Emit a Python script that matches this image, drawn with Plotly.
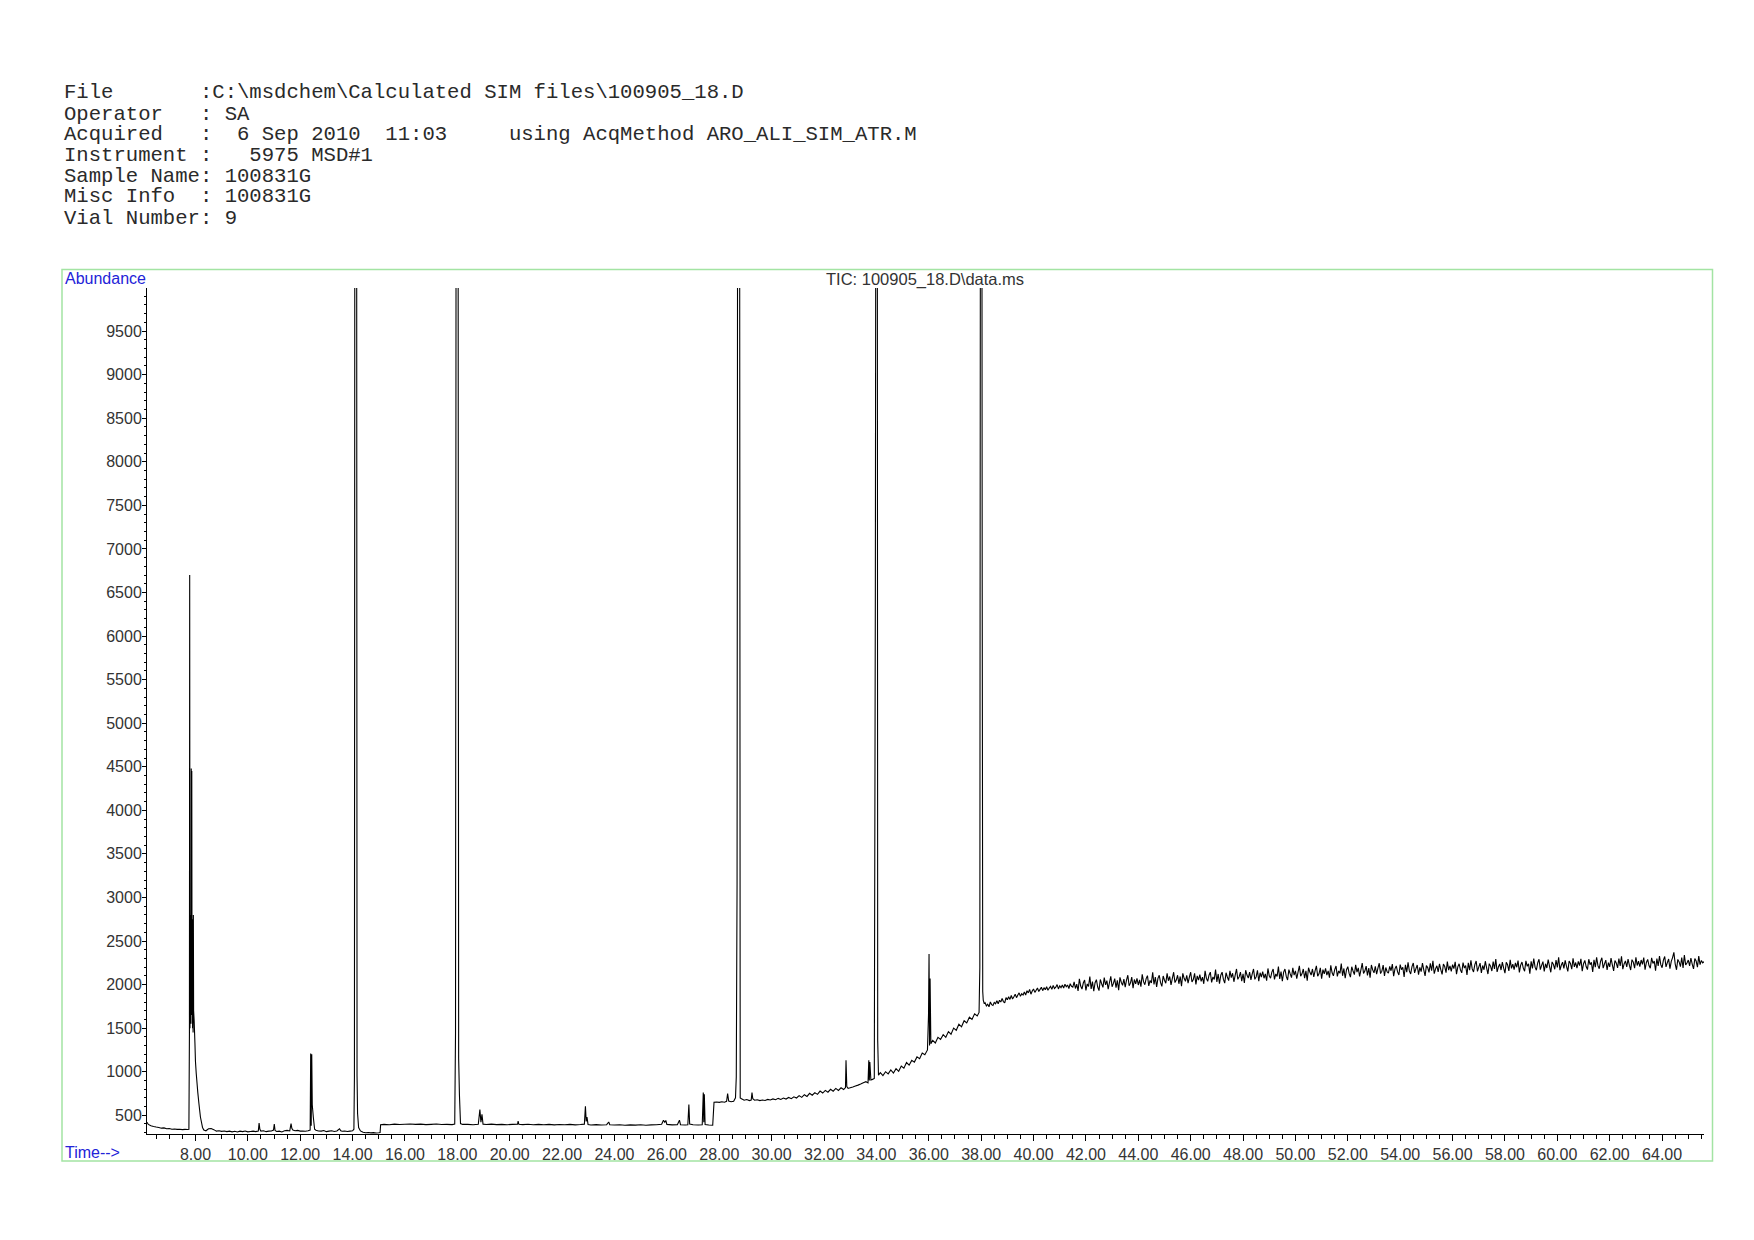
import plotly.graph_objects as go

# ---- header lines of the ChemStation report ----
header_lines = [
    "File       :C:\\msdchem\\Calculated SIM files\\100905_18.D",
    "Operator   : SA",
    "Acquired   :  6 Sep 2010  11:03     using AcqMethod ARO_ALI_SIM_ATR.M",
    "Instrument :   5975 MSD#1",
    "Sample Name: 100831G",
    "Misc Info  : 100831G",
    "Vial Number: 9",
]
chart_title = "TIC: 100905_18.D\\data.ms"

# ---- axis ticks ----
x_tick_values = [8, 10, 12, 14, 16, 18, 20, 22, 24, 26, 28, 30, 32, 34, 36,
                 38, 40, 42, 44, 46, 48, 50, 52, 54, 56, 58, 60, 62, 64]
y_tick_values = [500, 1000, 1500, 2000, 2500, 3000, 3500, 4000, 4500, 5000,
                 5500, 6000, 6500, 7000, 7500, 8000, 8500, 9000, 9500]

# ---- TIC trace (time in min, abundance) ----
# solvent front / first peak cluster
solvent_time = [6.15, 6.2, 6.3, 6.4, 6.5, 6.6, 6.7, 6.8, 6.9, 7.0,
                7.1, 7.2, 7.3, 7.4, 7.5, 7.6, 7.7, 7.75, 7.77, 7.78,
                7.79, 7.80, 7.81, 7.82, 7.83, 7.84, 7.85, 7.86, 7.87, 7.88,
                7.89, 7.90, 7.91, 7.92, 7.93, 7.95, 7.98, 8.00, 8.03, 8.06,
                8.09, 8.13, 8.16, 8.19, 8.23, 8.27, 8.32, 8.4]
solvent_abund = [420, 395, 380, 372, 365, 360, 352, 355, 345, 348,
                 340, 343, 338, 340, 335, 338, 336, 340, 1450, 6700,
                 1500, 2800, 1600, 2700, 1550, 4480, 1700, 4450, 1650, 2750,
                 1500, 2600, 1450, 2800, 1700, 1590, 1330, 1120, 980, 870,
                 760, 640, 560, 480, 420, 360, 330, 322]

# flat baseline section 8.5 - 27.8 min
early_time = [8.5, 8.6, 8.7, 8.8, 8.9, 9.0, 9.1, 9.2, 9.3, 9.4,
              9.5, 9.6, 9.7, 9.8, 9.9, 10.0, 10.1, 10.2, 10.3, 10.4,
              10.43, 10.46, 10.5, 10.6, 10.7, 10.8, 10.9, 10.98, 11.01, 11.04,
              11.1, 11.2, 11.3, 11.4, 11.5, 11.6, 11.65, 11.68, 11.72, 11.8,
              11.9, 12.0, 12.1, 12.2, 12.3, 12.38, 12.4, 12.42, 12.44, 12.46,
              12.5, 12.55, 12.6, 12.7, 12.8, 12.9, 13.0, 13.1, 13.2, 13.3,
              13.4, 13.5, 13.55, 13.6, 13.7, 13.8, 13.9, 14.0, 14.05, 14.07,
              14.09, 14.12, 14.15, 14.17, 14.19, 14.23, 14.3, 14.4, 14.5, 14.6,
              14.7, 14.8, 14.9, 15.0, 15.05, 15.07, 15.2, 15.4, 15.6, 15.8,
              16.0, 16.2, 16.4, 16.6, 16.8, 17.0, 17.2, 17.4, 17.6, 17.8,
              17.9, 17.93, 17.96, 18.02, 18.05, 18.08, 18.12, 18.2, 18.4, 18.6,
              18.8, 18.86, 18.9, 18.94, 18.98, 19.1, 19.3, 19.5, 19.7, 19.9,
              20.1, 20.3, 20.32, 20.35, 20.5, 20.7, 20.9, 21.1, 21.3, 21.5,
              21.7, 21.9, 22.1, 22.3, 22.5, 22.7, 22.85, 22.89, 22.92, 22.95,
              22.99, 23.1, 23.3, 23.5, 23.7, 23.78, 23.82, 24.0, 24.2, 24.4,
              24.6, 24.8, 25.0, 25.2, 25.4, 25.6, 25.8, 25.87, 25.92, 25.96,
              26.0, 26.2, 26.4, 26.48, 26.52, 26.7, 26.8, 26.84, 26.87, 27.0,
              27.2, 27.35, 27.39, 27.41, 27.43, 27.46, 27.6, 27.75]
early_abund = [345, 348, 335, 318, 322, 315, 320, 312, 318, 310,
               316, 308, 318, 312, 320, 310, 314, 318, 312, 320,
               410, 340, 318, 322, 312, 318, 320, 330, 400, 325,
               314, 318, 308, 322, 326, 320, 405, 350, 330, 322,
               326, 318, 320, 316, 322, 330, 1210, 380, 1200, 620,
               480, 340, 328, 320, 318, 325, 312, 318, 322, 314,
               320, 345, 322, 316, 320, 314, 318, 322, 340, 940,
               15000, 15000, 15000, 950, 520, 360, 320, 305, 300, 302,
               298, 301, 297, 300, 302, 392, 396, 392, 398, 394,
               397, 400, 395, 398, 393, 396, 399, 394, 396, 393,
               398, 1440, 15000, 15000, 1150, 730, 405, 395, 396, 392,
               397, 565, 420, 510, 398, 394, 398, 393, 396, 392,
               395, 398, 432, 396, 393, 397, 391, 395, 392, 396,
               390, 394, 391, 395, 390, 394, 398, 603, 430, 480,
               395, 389, 393, 388, 392, 423, 392, 388, 392, 386,
               390, 387, 391, 386, 390, 392, 396, 443, 420, 440,
               395, 390, 392, 443, 392, 388, 392, 623, 400, 392,
               388, 392, 761, 420, 740, 395, 388, 386]

# rising baseline 27.8 - 38.1 min
ramp_time = [27.8, 27.9, 28.0, 28.1, 28.2, 28.28, 28.32, 28.36, 28.45, 28.55,
             28.62, 28.65, 28.68, 28.71, 28.77, 28.8, 28.85, 28.95, 29.05, 29.15,
             29.22, 29.25, 29.28, 29.35, 29.45, 29.55, 29.65, 29.75, 29.85, 29.95,
             30.05, 30.15, 30.25, 30.35, 30.45, 30.55, 30.65, 30.75, 30.85, 30.95,
             31.05, 31.15, 31.25, 31.35, 31.45, 31.55, 31.65, 31.75, 31.85, 31.95,
             32.05, 32.15, 32.25, 32.35, 32.45, 32.55, 32.65, 32.75, 32.82, 32.84,
             32.87, 32.92, 33.0, 33.1, 33.2, 33.3, 33.4, 33.5, 33.6, 33.68,
             33.71, 33.73, 33.75, 33.79, 33.85, 33.92, 33.96, 33.99, 34.03, 34.05,
             34.08, 34.15, 34.25, 34.35, 34.45, 34.55, 34.65, 34.75, 34.85, 34.95,
             35.05, 35.15, 35.25, 35.35, 35.45, 35.55, 35.65, 35.75, 35.85, 35.95,
             35.99, 36.01, 36.03, 36.05, 36.08, 36.15, 36.25, 36.35, 36.45, 36.55,
             36.65, 36.75, 36.85, 36.95, 37.05, 37.15, 37.25, 37.35, 37.45, 37.55,
             37.65, 37.75, 37.85, 37.92, 37.95, 37.98, 38.02, 38.04, 38.06, 38.08,
             38.12]
ramp_abund = [650, 652, 648, 655, 650, 660, 749, 662, 655, 660,
              700, 940, 3150, 15000, 15000, 700, 690, 672, 680, 668,
              675, 761, 690, 672, 678, 668, 675, 670, 682, 676,
              688, 678, 694, 682, 698, 686, 704, 690, 712, 698,
              725, 705, 736, 716, 752, 730, 760, 740, 778, 755,
              786, 765, 798, 776, 808, 785, 815, 795, 818, 1130,
              830, 808, 815, 824, 835, 846, 858, 872, 885, 872,
              1130, 900, 1110, 905, 912, 922, 6500, 15000, 15000, 1360,
              960, 990, 955, 1000, 975, 1020, 985, 1035, 1005, 1065,
              1040, 1105, 1075, 1130, 1110, 1170, 1150, 1215, 1195, 1250,
              1650, 2350, 1300, 2070, 1320, 1360, 1330, 1395, 1370, 1425,
              1395, 1460, 1430, 1500, 1475, 1545, 1515, 1585, 1560, 1625,
              1600, 1665, 1640, 1680, 2200, 15000, 15000, 6650, 1920, 1820,
              1780]

# noisy shoulder after the last big peak, 38.15 - 41.5 min
shoulder_time = [38.15, 38.20, 38.25, 38.30, 38.35, 38.40, 38.45, 38.50, 38.55, 38.60,
                 38.65, 38.70, 38.75, 38.80, 38.85, 38.90, 38.95, 39.00, 39.05, 39.10,
                 39.15, 39.20, 39.25, 39.30, 39.35, 39.40, 39.45, 39.50, 39.55, 39.60,
                 39.65, 39.70, 39.75, 39.80, 39.85, 39.90, 39.95, 40.00, 40.05, 40.10,
                 40.15, 40.20, 40.25, 40.30, 40.35, 40.40, 40.45, 40.50, 40.55, 40.60,
                 40.65, 40.70, 40.75, 40.80, 40.85, 40.90, 40.95, 41.00, 41.05, 41.10,
                 41.15, 41.20, 41.25, 41.30, 41.35, 41.40, 41.45, 41.50]
shoulder_abund = [1790, 1755, 1775, 1745, 1800, 1770, 1760, 1795, 1780, 1815,
                  1780, 1820, 1800, 1840, 1805, 1790, 1850, 1825, 1860, 1830,
                  1875, 1835, 1860, 1890, 1850, 1880, 1905, 1865, 1895, 1880,
                  1915, 1880, 1930, 1905, 1945, 1890, 1925, 1950, 1910, 1935,
                  1960, 1920, 1945, 1970, 1930, 1965, 1940, 1975, 1935, 1960,
                  1980, 1945, 1990, 1955, 1970, 2000, 1950, 1985, 1965, 1995,
                  1960, 2005, 1975, 1995, 1955, 2010, 1980, 1970]

# noisy plateau 41.55 - 65.6 min
plateau_time = [41.55, 41.60, 41.65, 41.70, 41.75, 41.80, 41.85, 41.90, 41.95, 42.00,
                42.05, 42.10, 42.15, 42.20, 42.25, 42.30, 42.35, 42.40, 42.45, 42.50,
                42.55, 42.60, 42.65, 42.70, 42.75, 42.80, 42.85, 42.90, 42.95, 43.00,
                43.05, 43.10, 43.15, 43.20, 43.25, 43.30, 43.35, 43.40, 43.45, 43.50,
                43.55, 43.60, 43.65, 43.70, 43.75, 43.80, 43.85, 43.90, 43.95, 44.00,
                44.05, 44.10, 44.15, 44.20, 44.25, 44.30, 44.35, 44.40, 44.45, 44.50,
                44.55, 44.60, 44.65, 44.70, 44.75, 44.80, 44.85, 44.90, 44.95, 45.00,
                45.05, 45.10, 45.15, 45.20, 45.25, 45.30, 45.35, 45.40, 45.45, 45.50,
                45.55, 45.60, 45.65, 45.70, 45.75, 45.80, 45.85, 45.90, 45.95, 46.00,
                46.05, 46.10, 46.15, 46.20, 46.25, 46.30, 46.35, 46.40, 46.45, 46.50,
                46.55, 46.60, 46.65, 46.70, 46.75, 46.80, 46.85, 46.90, 46.95, 47.00,
                47.05, 47.10, 47.15, 47.20, 47.25, 47.30, 47.35, 47.40, 47.45, 47.50,
                47.55, 47.60, 47.65, 47.70, 47.75, 47.80, 47.85, 47.90, 47.95, 48.00,
                48.05, 48.10, 48.15, 48.20, 48.25, 48.30, 48.35, 48.40, 48.45, 48.50,
                48.55, 48.60, 48.65, 48.70, 48.75, 48.80, 48.85, 48.90, 48.95, 49.00,
                49.05, 49.10, 49.15, 49.20, 49.25, 49.30, 49.35, 49.40, 49.45, 49.50,
                49.55, 49.60, 49.65, 49.70, 49.75, 49.80, 49.85, 49.90, 49.95, 50.00,
                50.05, 50.10, 50.15, 50.20, 50.25, 50.30, 50.35, 50.40, 50.45, 50.50,
                50.55, 50.60, 50.65, 50.70, 50.75, 50.80, 50.85, 50.90, 50.95, 51.00,
                51.05, 51.10, 51.15, 51.20, 51.25, 51.30, 51.35, 51.40, 51.45, 51.50,
                51.55, 51.60, 51.65, 51.70, 51.75, 51.80, 51.85, 51.90, 51.95, 52.00,
                52.05, 52.10, 52.15, 52.20, 52.25, 52.30, 52.35, 52.40, 52.45, 52.50,
                52.55, 52.60, 52.65, 52.70, 52.75, 52.80, 52.85, 52.90, 52.95, 53.00,
                53.05, 53.10, 53.15, 53.20, 53.25, 53.30, 53.35, 53.40, 53.45, 53.50,
                53.55, 53.60, 53.65, 53.70, 53.75, 53.80, 53.85, 53.90, 53.95, 54.00,
                54.05, 54.10, 54.15, 54.20, 54.25, 54.30, 54.35, 54.40, 54.45, 54.50,
                54.55, 54.60, 54.65, 54.70, 54.75, 54.80, 54.85, 54.90, 54.95, 55.00,
                55.05, 55.10, 55.15, 55.20, 55.25, 55.30, 55.35, 55.40, 55.45, 55.50,
                55.55, 55.60, 55.65, 55.70, 55.75, 55.80, 55.85, 55.90, 55.95, 56.00,
                56.05, 56.10, 56.15, 56.20, 56.25, 56.30, 56.35, 56.40, 56.45, 56.50,
                56.55, 56.60, 56.65, 56.70, 56.75, 56.80, 56.85, 56.90, 56.95, 57.00,
                57.05, 57.10, 57.15, 57.20, 57.25, 57.30, 57.35, 57.40, 57.45, 57.50,
                57.55, 57.60, 57.65, 57.70, 57.75, 57.80, 57.85, 57.90, 57.95, 58.00,
                58.05, 58.10, 58.15, 58.20, 58.25, 58.30, 58.35, 58.40, 58.45, 58.50,
                58.55, 58.60, 58.65, 58.70, 58.75, 58.80, 58.85, 58.90, 58.95, 59.00,
                59.05, 59.10, 59.15, 59.20, 59.25, 59.30, 59.35, 59.40, 59.45, 59.50,
                59.55, 59.60, 59.65, 59.70, 59.75, 59.80, 59.85, 59.90, 59.95, 60.00,
                60.05, 60.10, 60.15, 60.20, 60.25, 60.30, 60.35, 60.40, 60.45, 60.50,
                60.55, 60.60, 60.65, 60.70, 60.75, 60.80, 60.85, 60.90, 60.95, 61.00,
                61.05, 61.10, 61.15, 61.20, 61.25, 61.30, 61.35, 61.40, 61.45, 61.50,
                61.55, 61.60, 61.65, 61.70, 61.75, 61.80, 61.85, 61.90, 61.95, 62.00,
                62.05, 62.10, 62.15, 62.20, 62.25, 62.30, 62.35, 62.40, 62.45, 62.50,
                62.55, 62.60, 62.65, 62.70, 62.75, 62.80, 62.85, 62.90, 62.95, 63.00,
                63.05, 63.10, 63.15, 63.20, 63.25, 63.30, 63.35, 63.40, 63.45, 63.50,
                63.55, 63.60, 63.65, 63.70, 63.75, 63.80, 63.85, 63.90, 63.95, 64.00,
                64.05, 64.10, 64.15, 64.20, 64.25, 64.30, 64.35, 64.40, 64.45, 64.50,
                64.55, 64.60, 64.65, 64.70, 64.75, 64.80, 64.85, 64.90, 64.95, 65.00,
                65.05, 65.10, 65.15, 65.20, 65.25, 65.30, 65.35, 65.40, 65.45, 65.50,
                65.55, 65.60]
plateau_abund = [2032, 1955, 2004, 1927, 2067, 1983, 1948, 2018, 2053, 1934,
                 2007, 1979, 2091, 1951, 2035, 1923, 2021, 2056, 1972, 1930,
                 2059, 2010, 1968, 2080, 1996, 2045, 1947, 2024, 2094, 1975,
                 2013, 2069, 1964, 2048, 1936, 2083, 2027, 1992, 2062, 1971,
                 2051, 2107, 1988, 2016, 2086, 1960, 2058, 2009, 2072, 1995,
                 2054, 1977, 2117, 2033, 1998, 2068, 2103, 1984, 2047, 2019,
                 2141, 2001, 2085, 1973, 2071, 2106, 2022, 1980, 2099, 2050,
                 2016, 2128, 2044, 2093, 1995, 2072, 2142, 2023, 2051, 2107,
                 2009, 2093, 1981, 2128, 2072, 2037, 2107, 2016, 2086, 2142,
                 2030, 2058, 2128, 2002, 2100, 2051, 2114, 2037, 2086, 2009,
                 2157, 2073, 2038, 2108, 2143, 2024, 2087, 2059, 2171, 2031,
                 2122, 2010, 2108, 2143, 2059, 2017, 2136, 2087, 2045, 2157,
                 2081, 2130, 2032, 2109, 2179, 2060, 2088, 2144, 2039, 2123,
                 2018, 2165, 2109, 2074, 2144, 2053, 2123, 2179, 2060, 2088,
                 2164, 2038, 2136, 2087, 2150, 2073, 2122, 2045, 2185, 2101,
                 2073, 2143, 2178, 2059, 2122, 2094, 2206, 2066, 2150, 2038,
                 2143, 2178, 2094, 2052, 2171, 2122, 2080, 2192, 2108, 2157,
                 2067, 2144, 2214, 2095, 2123, 2179, 2074, 2158, 2046, 2193,
                 2144, 2109, 2179, 2088, 2158, 2214, 2095, 2123, 2193, 2067,
                 2171, 2122, 2185, 2108, 2157, 2080, 2220, 2136, 2101, 2171,
                 2213, 2094, 2157, 2129, 2241, 2101, 2185, 2073, 2171, 2206,
                 2128, 2086, 2205, 2156, 2114, 2226, 2142, 2191, 2093, 2170,
                 2246, 2127, 2155, 2211, 2106, 2190, 2078, 2225, 2169, 2134,
                 2210, 2119, 2189, 2245, 2126, 2154, 2224, 2098, 2196, 2147,
                 2131, 2208, 2159, 2236, 2096, 2180, 2215, 2145, 2110, 2229,
                 2171, 2199, 2087, 2227, 2143, 2255, 2157, 2122, 2206, 2248,
                 2134, 2183, 2225, 2113, 2197, 2148, 2246, 2169, 2099, 2218,
                 2195, 2139, 2244, 2160, 2272, 2125, 2181, 2216, 2146, 2237,
                 2172, 2116, 2235, 2207, 2137, 2263, 2165, 2214, 2151, 2228,
                 2183, 2260, 2120, 2204, 2239, 2169, 2134, 2253, 2190, 2218,
                 2110, 2250, 2166, 2278, 2180, 2145, 2229, 2271, 2152, 2201,
                 2247, 2135, 2219, 2170, 2268, 2191, 2121, 2240, 2212, 2156,
                 2265, 2181, 2293, 2146, 2202, 2237, 2167, 2258, 2188, 2132,
                 2255, 2227, 2157, 2283, 2185, 2234, 2171, 2248, 2199, 2276,
                 2140, 2224, 2259, 2189, 2154, 2273, 2210, 2238, 2126, 2266,
                 2186, 2298, 2200, 2165, 2249, 2291, 2172, 2221, 2263, 2151,
                 2239, 2190, 2288, 2211, 2141, 2260, 2232, 2176, 2281, 2197,
                 2313, 2166, 2222, 2257, 2187, 2278, 2208, 2152, 2271, 2243,
                 2176, 2302, 2204, 2253, 2190, 2267, 2218, 2295, 2155, 2239,
                 2277, 2207, 2172, 2291, 2228, 2256, 2144, 2284, 2200, 2312,
                 2217, 2182, 2266, 2308, 2189, 2238, 2280, 2168, 2252, 2203,
                 2304, 2227, 2157, 2276, 2248, 2192, 2297, 2213, 2325, 2178,
                 2237, 2272, 2202, 2293, 2223, 2167, 2286, 2258, 2188, 2314,
                 2219, 2268, 2205, 2282, 2233, 2310, 2170, 2254, 2289, 2219,
                 2187, 2306, 2243, 2271, 2159, 2299, 2215, 2327, 2229, 2194,
                 2280, 2322, 2203, 2252, 2294, 2182, 2266, 2310, 2370, 2238,
                 2170, 2289, 2261, 2205, 2310, 2191, 2338, 2226, 2247, 2282,
                 2214, 2305, 2235, 2179, 2298, 2270, 2200, 2326, 2228, 2277,
                 2250, 2262]

time_min = solvent_time + early_time + ramp_time + shoulder_time + plateau_time
abundance = solvent_abund + early_abund + ramp_abund + shoulder_abund + plateau_abund
assert len(time_min) == len(abundance)

# ---- page geometry (pixels, page coordinates) ----
# the browser puts an 8px body margin round the plot div
OFF = 8
W, H = 1754, 1240
L, R, T, B = 147, 50, 288, 106
plot_w = W - L - R
plot_h = H - T - B


def px_x(x):
    return (x - L) / plot_w


def px_y(y):
    return 1 - (y - T) / plot_h


BLUE = "#2323d8"
GREEN = "#a3e4a3"

fig = go.Figure(go.Scatter(x=time_min, y=abundance, mode="lines",
                           line=dict(color="black", width=1.1, simplify=False),
                           hoverinfo="skip"))

fig.update_layout(
    width=W - OFF, height=H - OFF,
    margin=dict(l=L - OFF, r=R, t=T - OFF, b=B, pad=0),
    paper_bgcolor="white", plot_bgcolor="white",
    showlegend=False,
    font=dict(family="Liberation Sans, Arial", size=16, color="#333"),
)

fig.update_xaxes(range=[6.15, 65.6], showline=True, linecolor="black", linewidth=1,
                 showgrid=False, zeroline=False,
                 tickmode="array", tickvals=x_tick_values, tickformat=".2f",
                 ticks="outside", ticklen=6, tickcolor="black", tickwidth=1,
                 tickfont=dict(size=16, color="#333"),
                 minor=dict(dtick=0.5, tick0=0, ticks="outside", ticklen=4,
                            tickcolor="black", showgrid=False))

fig.update_yaxes(range=[285, 9995], showline=True, linecolor="black", linewidth=1,
                 showgrid=False, zeroline=False,
                 tickmode="array", tickvals=y_tick_values,
                 ticks="outside", ticklen=4, tickcolor="black", tickwidth=1,
                 ticklabelstandoff=-3,
                 tickfont=dict(size=16, color="#333"),
                 minor=dict(dtick=100, tick0=0, ticks="outside", ticklen=2,
                            tickcolor="black", showgrid=False))

# green frame round the chart
fig.add_shape(type="rect", xref="paper", yref="paper",
              x0=px_x(62), x1=px_x(1712.5), y0=px_y(1161), y1=px_y(269.5),
              line=dict(color=GREEN, width=1.5), layer="below")

# header block, one annotation per line
header_y = [93, 114, 135, 155.5, 176.5, 197, 218]
for line, yy in zip(header_lines, header_y):
    fig.add_annotation(text=line.replace(" ", "\u00a0"), xref="paper", yref="paper",
                       x=px_x(62), y=px_y(yy), xanchor="left", yanchor="middle",
                       showarrow=False,
                       font=dict(family="Liberation Mono, Courier New, monospace",
                                 size=20.6, color="#2a2a2a"))

fig.add_annotation(text="Abundance", xref="paper", yref="paper",
                   x=px_x(63), y=px_y(279), xanchor="left", yanchor="middle",
                   showarrow=False, font=dict(size=16, color=BLUE))
fig.add_annotation(text=chart_title, xref="paper", yref="paper",
                   x=px_x(925), y=px_y(279.5), xanchor="center", yanchor="middle",
                   showarrow=False, font=dict(size=16.5, color="#333"))
fig.add_annotation(text="Time-->", xref="paper", yref="paper",
                   x=px_x(63), y=px_y(1152), xanchor="left", yanchor="middle",
                   showarrow=False, font=dict(size=16, color=BLUE))

fig.write_html("out.html")
